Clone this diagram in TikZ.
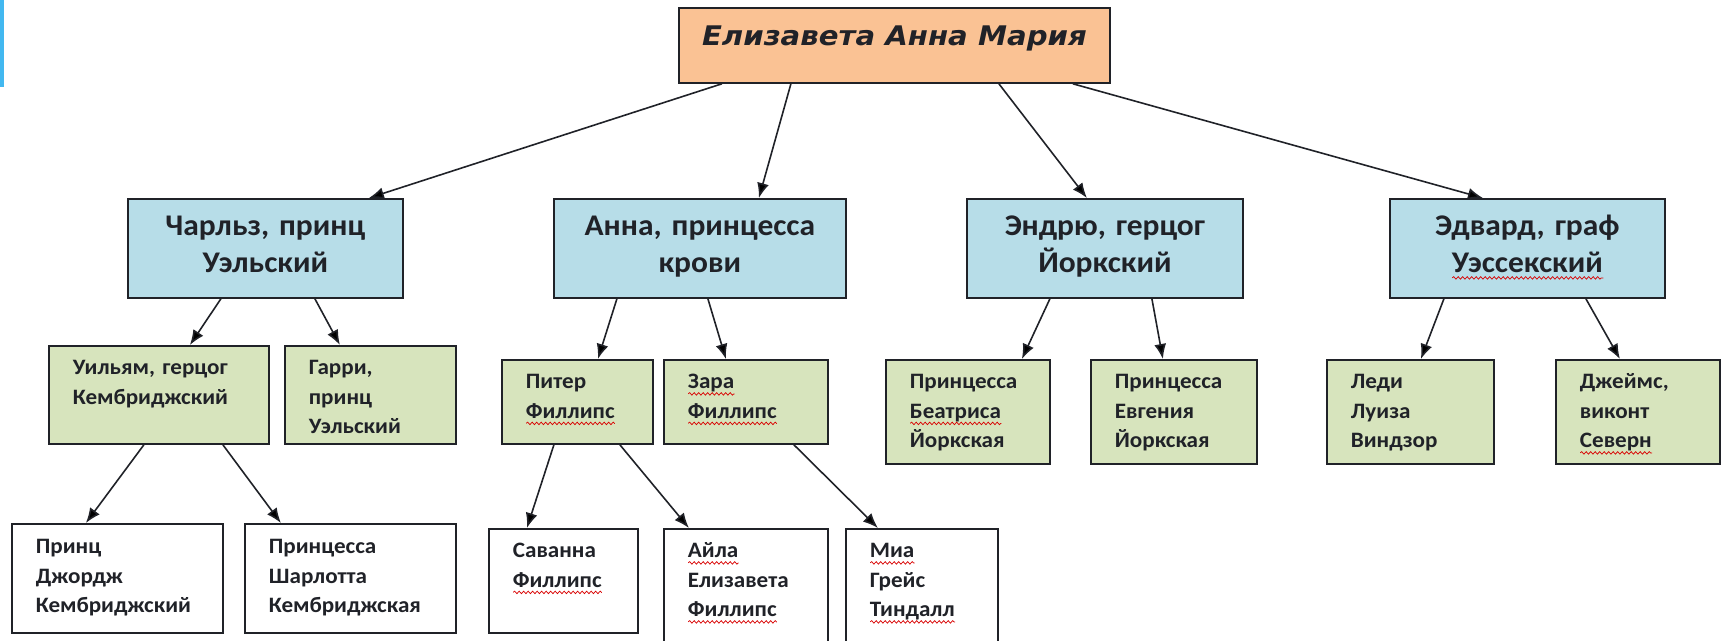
\documentclass[tikz,border=0pt]{standalone}
\usepackage{fontspec}
\usetikzlibrary{arrows.meta,decorations.pathmorphing}
\setmainfont{Carlito}[FakeStretch=1.05]
\newfontfamily\titlefont{DejaVu Sans}[FakeStretch=1.08]
\definecolor{peach}{RGB}{250,194,148}
\definecolor{paleblue}{RGB}{183,221,232}
\definecolor{olivepale}{RGB}{215,228,189}
\definecolor{barblue}{RGB}{66,184,240}
\definecolor{ink}{RGB}{32,34,40}
\newcommand{\redwave}[1]{\setbox0\hbox{#1}\leavevmode\rlap{\tikz[baseline=0pt]\draw[red!85!black, line width=0.7pt, decorate, decoration={snake, amplitude=1.3pt, segment length=4.5pt}] (0pt,-5pt) -- (\wd0,-5pt);}\box0}
\tikzset{
  queen/.style={draw=ink, line width=1.8pt, fill=peach, anchor=north west, text=ink,
    minimum width=431pt, inner sep=0pt, text height=38pt, text depth=37pt,
    font=\titlefont\bfseries\itshape\fontsize{27}{30}\selectfont},
  royal/.style={draw=ink, line width=1.8pt, fill=paleblue, anchor=north west, text=ink,
    inner sep=0pt, align=center, text height=37pt, text depth=62pt,
    font=\bfseries\fontsize{30}{37}\selectfont},
  heir/.style={draw=ink, line width=1.8pt, fill=olivepale, anchor=north west, text=ink,
    inner xsep=24pt, inner ysep=0pt, align=left,
    font=\bfseries\fontsize{22}{29.5}\selectfont},
  grandheir/.style={heir, fill=white},
  arr/.style={draw=ink, line width=1.6pt, -{Latex[length=15pt,width=12pt]}}
}
\begin{document}
\begin{tikzpicture}[x=1pt,y=-1pt]
  \newcommand{\link}[4]{
    \draw[arr] ([xshift=#2pt]#1.south) -- ([xshift=#4pt]#3.north);
  }
  \useasboundingbox (0,0) rectangle (1723,640);
  \clip (0,0) rectangle (1723,640);
  \fill[barblue] (0,0) rectangle (4,87);

  % queen
  \node[queen] (queen) at (678,7) {Елизавета Анна Мария};

  % children
  \node[royal, text width=275pt] (charles) at (127,198) {Чарльз, принц\\Уэльский};
  \node[royal, text width=292pt] (anne) at (553,198) {Анна, принцесса\\крови};
  \node[royal, text width=276pt] (andrew) at (966,198) {Эндрю, герцог\\Йоркский};
  \node[royal, text width=275pt] (edward) at (1389,198) {Эдвард, граф\\\redwave{Уэссекский}};

  % grandchildren
  \node[heir, text width=172pt, text height=29pt, text depth=69pt] (william) at (48,345) {Уильям, герцог\\Кембриджский};
  \node[heir, text width=123pt, text height=29pt, text depth=69pt] (harry) at (284,345) {Гарри,\\принц\\Уэльский};
  \node[heir, text width=103pt, text height=29pt, text depth=55pt] (peter) at (501,359) {Питер\\\redwave{Филлипс}};
  \node[heir, text width=116pt, text height=29pt, text depth=55pt] (zara) at (663,359) {\redwave{Зара}\\\redwave{Филлипс}};
  \node[heir, text width=116pt, text height=29pt, text depth=75pt] (beatrice) at (885,359) {Принцесса\\\redwave{Беатриса}\\Йоркская};
  \node[heir, text width=118pt, text height=29pt, text depth=75pt] (eugenie) at (1090,359) {Принцесса\\Евгения\\Йоркская};
  \node[heir, text width=119pt, text height=29pt, text depth=75pt] (louise) at (1326,359) {Леди\\Луиза\\Виндзор};
  \node[heir, text width=116pt, text height=29pt, text depth=75pt] (james) at (1555,359) {Джеймс,\\виконт\\\redwave{Северн}};

  % great-grandchildren
  \node[grandheir, text width=163pt, text height=30pt, text depth=79pt] (george) at (11,523) {Принц\\Джордж\\Кембриджский};
  \node[grandheir, text width=163pt, text height=30pt, text depth=79pt] (charlotte) at (244,523) {Принцесса\\Шарлотта\\Кембриджская};
  \node[grandheir, text width=101pt, text height=29pt, text depth=75pt] (savannah) at (488,528) {Саванна\\\redwave{Филлипс}};
  \node[grandheir, text width=116pt, text height=29pt, text depth=110pt] (isla) at (663,528) {\redwave{Айла}\\Елизавета\\\redwave{Филлипс}};
  \node[grandheir, text width=104pt, text height=29pt, text depth=110pt] (mia) at (845,528) {\redwave{Миа}\\Грейс\\\redwave{Тиндалл}};

  \link{queen}{-172.5}{charles}{103.5}
  \link{queen}{-103.5}{anne}{59}
  \link{queen}{104.5}{andrew}{-18}
  \link{queen}{178.5}{edward}{-44.5}
  \link{charles}{-44.5}{william}{31}
  \link{charles}{49.5}{harry}{-30.5}
  \link{anne}{-83}{peter}{20.5}
  \link{anne}{8}{zara}{-20}
  \link{andrew}{-55}{beatrice}{54}
  \link{andrew}{47}{eugenie}{-11}
  \link{edward}{-83.5}{louise}{10.5}
  \link{edward}{58.5}{james}{-18}
  \link{william}{-15}{george}{-31.5}
  \link{william}{64}{charlotte}{-69.5}
  \link{peter}{-23.5}{savannah}{-36.5}
  \link{peter}{42.5}{isla}{-57}
  \link{zara}{48}{mia}{-44}
\end{tikzpicture}
\end{document}
